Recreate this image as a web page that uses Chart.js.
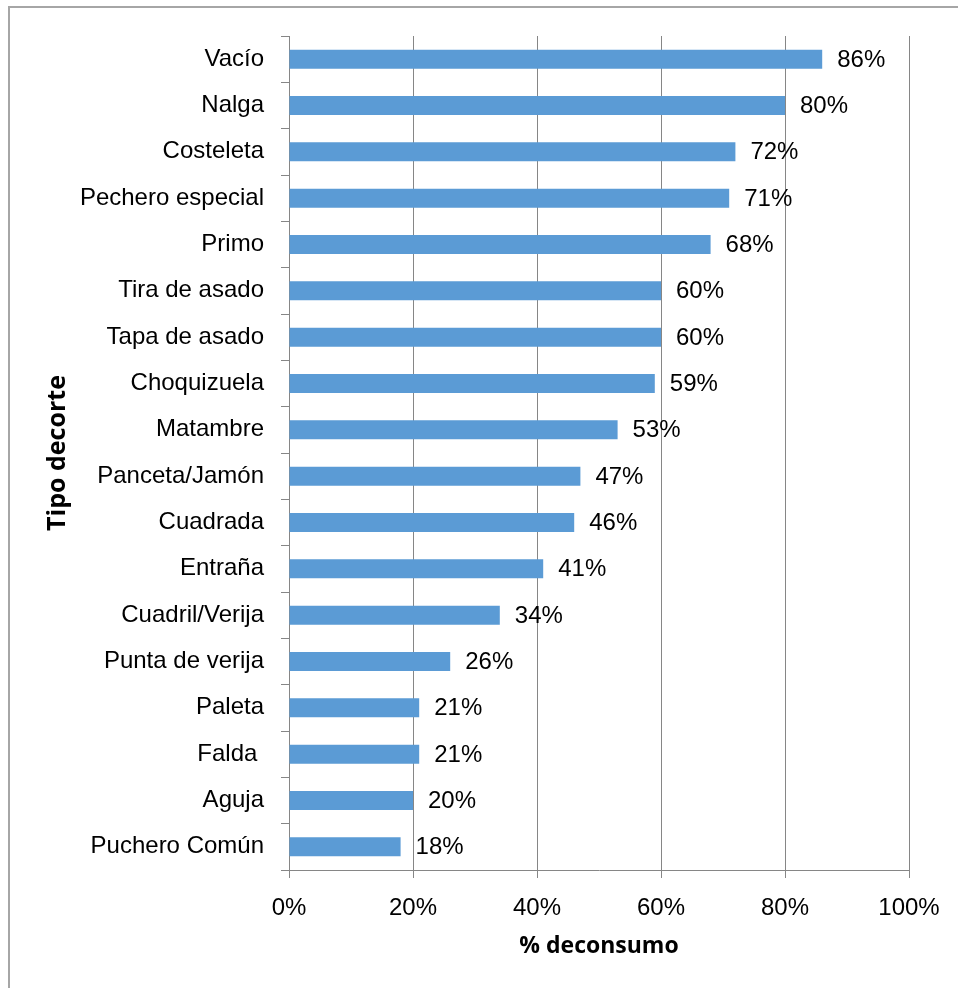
<!DOCTYPE html>
<html>
<head>
<meta charset="utf-8">
<script src="https://cdn.jsdelivr.net/npm/chart.js@4"></script>
<style>
    body { margin: 0; background: #fff; }
    #wrap { position: relative; width: 958px; height: 988px; overflow: hidden; }
    #frame { position: absolute; left: 8px; top: 6px; width: 1000px; height: 1000px;
             border-top: 2px solid #a6a6a6; border-left: 2px solid #a6a6a6; pointer-events: none; }
    canvas { position: absolute; left: 0; top: 0; }
</style>
</head>
<body>
<div id="wrap">
    <canvas id="chart" width="958" height="988"></canvas>
    <div id="frame"></div>
</div>
<script>
// Chart data
const cortes = ['Vacío', 'Nalga', 'Costeleta', 'Pechero especial', 'Primo', 'Tira de asado',
    'Tapa de asado', 'Choquizuela', 'Matambre', 'Panceta/Jamón', 'Cuadrada', 'Entraña',
    'Cuadril/Verija', 'Punta de verija', 'Paleta', 'Falda ', 'Aguja', 'Puchero Común'];
const consumo = [86, 80, 72, 71, 68, 60, 60, 59, 53, 47, 46, 41, 34, 26, 21, 21, 20, 18];
const xTicks = [0, 20, 40, 60, 80, 100];

const gridColor = '#868686';
const labelFont = { family: 'Liberation Sans, Arial, sans-serif', size: 24 };

// draws the value next to the end of each bar
const valueLabels = {
    id: 'valueLabels',
    afterDatasetsDraw(chart) {
        const ctx = chart.ctx;
        const meta = chart.getDatasetMeta(0);
        ctx.save();
        ctx.font = '24px "Liberation Sans", Arial, sans-serif';
        ctx.fillStyle = '#000';
        ctx.textAlign = 'left';
        ctx.textBaseline = 'middle';
        meta.data.forEach((bar, i) => {
            ctx.fillText(consumo[i] + '%', bar.x + 15, bar.y + 1);
        });
        ctx.restore();
    }
};

new Chart(document.getElementById('chart'), {
    type: 'bar',
    data: {
        labels: cortes,
        datasets: [{
            data: consumo,
            backgroundColor: '#5B9BD5',
            borderWidth: 0,
            barPercentage: 0.41,
            categoryPercentage: 1
        }]
    },
    options: {
        indexAxis: 'y',
        responsive: false,
        animation: false,
        layout: { padding: { top: 36, right: 49, bottom: 20, left: 40 } },
        plugins: { legend: { display: false }, tooltip: { enabled: false } },
        scales: {
            x: {
                min: 0,
                max: 100,
                afterBuildTicks: scale => { scale.ticks = xTicks.map(v => ({ value: v })); },
                afterFit: scale => { scale.height = 98; },
                ticks: {
                    callback: v => v + '%',
                    color: '#000',
                    font: labelFont,
                    padding: 16,
                    maxRotation: 0
                },
                grid: { color: gridColor, lineWidth: 1, tickLength: 8 },
                border: { color: gridColor, width: 1 },
                title: {
                    display: true,
                    text: '% deconsumo',
                    color: '#000',
                    font: { family: 'Open Sans, sans-serif', size: 23, weight: 'bold' },
                    padding: { top: 0, bottom: 8 }
                }
            },
            y: {
                afterFit: scale => { scale.width = 249; },
                ticks: { color: '#000', font: labelFont, padding: 17 },
                grid: { drawOnChartArea: false, color: gridColor, tickLength: 8, offset: true },
                border: { color: gridColor, width: 1 },
                title: {
                    display: true,
                    text: 'Tipo decorte',
                    color: '#000',
                    font: { family: 'Open Sans, sans-serif', size: 25, weight: 'bold' },
                    padding: { top: 3, bottom: 0 }
                }
            }
        }
    },
    plugins: [valueLabels]
});
</script>
</body>
</html>
